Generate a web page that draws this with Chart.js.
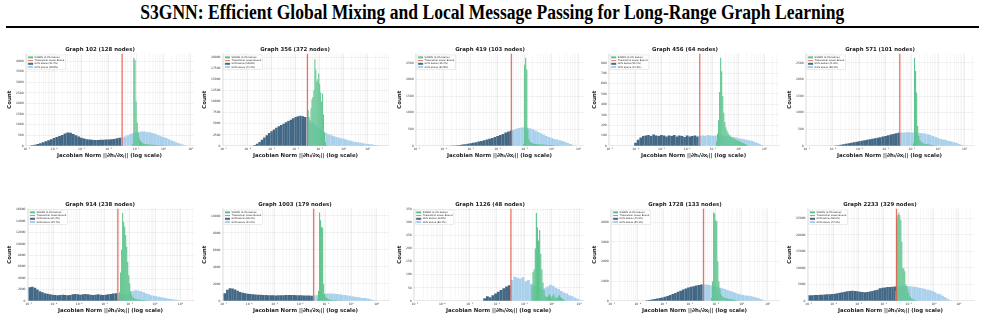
<!DOCTYPE html>
<html>
<head>
<meta charset="utf-8">
<script src="https://cdn.jsdelivr.net/npm/chart.js@4.4.1/dist/chart.umd.min.js"></script>
<style>
  body { margin: 0; background: #fff; width: 985px; height: 323px; overflow: hidden; position: relative; }
  #head { position: absolute; left: 0; top: 1px; width: 985px; text-align: center; white-space: nowrap;
          font: bold 20px "Liberation Serif", serif; color: #000; }
  #head span { display: inline-block; transform-origin: center; }
  #rule { position: absolute; left: 6px; top: 26px; width: 973px; height: 2px; background: #000; }
  canvas { position: absolute; }
</style>
</head>
<body>
<div id="head"><span id="headText">S3GNN: Efficient Global Mixing and Local Message Passing for Long-Range Graph Learning</span></div>
<div id="rule"></div>
<script>
// one panel per graph (x in log10 of the Jacobian norm)
var graphIds   = [102, 356, 419, 456, 571, 914, 1003, 1126, 1728, 2233];
var nodeCounts = [128, 372, 103, 64, 101, 238, 179, 48, 133, 329];
var lowerBound = [-1.51, -1.51, -1.49, -1.51, -1.46, -1.47, -1.47, -1.49, -1.47, -1.49];
var xMax       = [1.12, 1.88, 1.2, 1.56, 1.36, 1.54, 1.48, 1.18, 1.43, 1.6];
var yMax       = [4360, 20800, 2780, 890, 2780, 16200, 10880, 352, 4700, 28000];
var yStep      = [500, 2500, 500, 100, 500, 2000, 2000, 50, 1000, 5000];

// baseline histogram (0.1 decade bins), first bin centre
var baseStart = [-4.9, -3.8, -3.8, -4.0, -3.9, -4.95, -4.95, -2.45, -3.75, -4.95];
var base102  = [10,30,50,90,130,170,220,270,320,370, 420,470,520,580,630,620,560,500,440,390,
                350,320,300,290,280,280,290,290,300,300, 310,330,360,380,400,450,500,560,610,650,
                670,680,680,660,640,610,570,520,460,420, 370,320,260,210,160,110,70,35,12,3];
var base356  = [50,200,500,900,1400,1900,2400,2900,3300,3700, 4100,4400,4700,5000,5300,5600,5900,6200,6500,6700,
                6800,6700,6500,6300,5800,5300,4800,4300,3900,3500, 3100,2800,2600,2400,2200,2000,1850,1700,1600,1450,
                1300,1150,1000,900,800,700,600,500,450,380, 300,220,150,100,50];
var base419  = [5,10,15,20,30,40,50,65,80,95, 110,130,150,170,190,215,240,270,300,330,
                360,400,430,460,490,520,540,555,560,550, 530,500,460,420,380,340,300,270,240,210,
                190,170,150,120,90,55,25,5];
var base456  = [30,60,80,95,100,105,95,110,100,95, 105,100,90,100,95,105,90,100,95,85,
                100,90,95,100,90,95,100,95,105,100, 95,100,95,100,90,95,90,85,85,80,
                75,70,65,60,55,50,40,30,20,8];
var base571  = [10,20,35,50,65,80,95,110,125,140, 155,170,185,200,215,230,245,260,280,300,
                320,340,360,380,395,400,405,410,410,405, 400,395,390,380,370,350,330,300,270,240,
                210,190,175,150,130,110,90,60,30,10];
var base914  = [2400,2500,2300,2000,1700,1500,1350,1250,1150,1100, 1050,1000,1050,1100,1050,1000,1050,1150,1200,1150,
                1100,1150,1200,1150,1100,1050,1100,1150,1100,1050, 1100,1150,1200,1300,1350,1300,1200,1100,1150,1300,
                1600,1800,1850,1800,1700,1500,1300,1150,1000,900, 800,720,640,560,480,400,330,260,190,120,50];
var base1003 = [900,1300,1500,1450,1350,1200,1050,950,900,850, 800,780,760,740,720,700,690,680,670,660,
                650,660,670,680,690,700,700,690,680,670, 660,650,640,630,620,650,700,750,800,850,
                870,880,870,850,820,780,740,700,650,600, 550,500,450,400,350,330,280,200,120,50];
var base1126 = [10,18,14,22,28,35,42,48,55,60, 80,92,88,85,90,75,80,65,60,55,
                50,45,48,55,62,58,50,45,38,32, 28,22,18,12,8,3];
var base1728 = [10,30,50,75,100,125,150,180,215,255, 300,350,400,460,520,580,630,680,720,750,
                780,810,830,840,830,810,780,750,720,680, 640,600,560,510,460,410,370,330,300,280,
                260,240,210,180,140,90,40,10];
var base2233 = [1700,1750,1800,1800,1850,1900,1950,2000,2050,2100, 2200,2300,2450,2600,2750,2900,3000,3050,3000,2900,
                2800,2700,2650,2700,2850,3000,3200,3400,3800,4000, 4100,4200,4250,4300,4350,4400,4450,4500,4500,4500,
                4450,4400,4300,4150,3950,3800,3600,3400,3200,3000, 2600,2200,2000,1600,1100,650,300,80];
var baseCounts = [base102, base356, base419, base456, base571, base914, base1003, base1126, base1728, base2233];

// S3GNN histogram (0.04 decade bins), first bin centre
var s3Start = [-1.12, -1.48, -1.04, -0.86, -0.94, -1.44, -1.32, -0.72, -1.16, -1.52];
var s3g102  = [80,4150,4050,2100,1100,600,350,230,170,130, 110,95,85,75,70,65,60,55,50,50,
               45,45,40,40,35,35,30,30,25,25, 20,20,15,15,10,10,8,6,4,2];
var s3g356  = [8000,6500,5200,8500,10500,11000,12500,19500,17200,14500, 15000,16300,14000,12000,10000,11800,7000,3000,800,200];
var s3g419  = [60,2450,2650,2300,500,200,120,100,80,70, 60,55,50,50,45,45,40,40,40,35,
               35,30,30,30,25,25,25,20,20,15, 15,10,10,8,6,5,4,3,2];
var s3g456  = [40,120,250,520,850,720,480,320,230,180, 150,130,110,100,90,80,75,70,65,60,
               55,50,45,40,35,30,25,20,15,10,6,3];
var s3g571  = [80,2650,2250,1600,600,300,180,130,100,80, 70,60,55,50,45,40,35,30,25,20,15,10,5];
var s3g914  = [300,1500,5000,9000,15400,13800,13000,11500,9500,6800, 4500,3100,1800,1000,700,500,400,350,300,250,
               220,200,180,160,140,120,100,90,80,70, 60,50,40,30,20,10];
var s3g1003 = [200,1200,10400,9500,8700,8600,2000,800,500,350, 250,200,150,130,110,100,90,80,70,60,
               50,45,40,35,30,25,20,15,10,5];
var s3g1126 = [60,110,120,200,335,280,230,270,180,120, 70,40,20,15,15,20,25,18,12,20,
               25,15,10,12,18,22,15,10,8,5,3];
var s3g1728 = [150,1000,4500,4450,4100,4050,2000,1000,600,350, 250,200,170,150,130,120,110,100,90,80,
               70,60,50,40,30,20,10];
var s3g2233 = [3000,25000,26000,26700,26000,24500,18000,10000,9800,9000, 5000,4500,3500,2500,1500,1000,700,500,400,300,
               200,150,100,60,30];
var s3Counts = [s3g102, s3g356, s3g419, s3g456, s3g571, s3g914, s3g1003, s3g1126, s3g1728, s3g2233];

var baseStep = 0.1, s3Step = 0.04;
var xMin = -5.06;

var colLeft = [6, 201, 396, 591, 786];
var rowTop = [44, 199];

var sup = {'-':'⁻','0':'⁰','1':'¹','2':'²','3':'³','4':'⁴','5':'⁵','6':'⁶','7':'⁷','8':'⁸','9':'⁹'};
function powLabel(n) { return '10' + String(n).split('').map(function (c) { return sup[c]; }).join(''); }
function isMajor(v) { return Math.abs(v - Math.round(v)) < 1e-6; }
function sum(a) { return a.reduce(function (s, v) { return s + v; }, 0); }

// legend drawn inside the plot, top-left
var insideLegend = {
  id: 'insideLegend',
  afterDraw: function (chart) {
    var ctx = chart.ctx, a = chart.chartArea, items = chart.data.datasets;
    ctx.save();
    ctx.font = '2.4px "DejaVu Sans"';
    var rowH = 3.2, sw = 5, w = 0;
    items.forEach(function (d) { w = Math.max(w, ctx.measureText(d.label).width); });
    var bx = a.left + 2, by = a.top + 1.5, bw = w + sw + 4, bh = items.length * rowH + 1.5;
    ctx.fillStyle = 'rgba(255,255,255,0.85)';
    ctx.fillRect(bx, by, bw, bh);
    ctx.strokeStyle = '#d0d0d0'; ctx.lineWidth = 0.4;
    ctx.strokeRect(bx, by, bw, bh);
    items.forEach(function (d, k) {
      var y = by + 0.8 + rowH * k + rowH / 2;
      if (d.type === 'line') {
        ctx.strokeStyle = d.borderColor; ctx.lineWidth = 1;
        ctx.beginPath(); ctx.moveTo(bx + 1, y); ctx.lineTo(bx + 1 + sw, y); ctx.stroke();
      } else {
        ctx.fillStyle = d.backgroundColor;
        ctx.fillRect(bx + 1, y - 1, sw, 2);
      }
      ctx.fillStyle = '#222'; ctx.textBaseline = 'middle';
      ctx.fillText(d.label, bx + sw + 2.5, y);
    });
    ctx.restore();
  }
};

function drawPanel(i) {
  var cv = document.createElement('canvas');
  cv.width = 192; cv.height = 116;
  cv.style.left = colLeft[i % 5] + 'px';
  cv.style.top = rowTop[Math.floor(i / 5)] + 'px';
  document.body.appendChild(cv);

  var below = [], above = [], s3 = [];
  baseCounts[i].forEach(function (c, k) {
    var x = baseStart[i] + k * baseStep;
    (x < lowerBound[i] ? below : above).push({ x: x, y: c });
  });
  var s3Below = 0;
  s3Counts[i].forEach(function (c, k) {
    var x = s3Start[i] + k * s3Step;
    if (x < lowerBound[i]) s3Below += c;
    s3.push({ x: x, y: c });
  });
  var total = sum(baseCounts[i]);
  var pb = 100 * sum(below.map(function (p) { return p.y; })) / total;
  var ps3 = 100 * s3Below / sum(s3Counts[i]);

  // bars sit on hidden axes so the dense log minor ticks of the visible axis do not shrink them
  var barCommon = { grouped: false, barPercentage: 1.04, categoryPercentage: 1, borderWidth: 0 };
  var hiddenX = { type: 'linear', min: xMin, max: xMax[i], offset: false, display: false };
  new Chart(cv, {
    type: 'bar',
    data: {
      datasets: [
        Object.assign({ label: 'S3GNN (' + ps3.toFixed(1) + '% below)', data: s3, xAxisID: 'x2',
          backgroundColor: '#5cc38c', order: 1 }, barCommon),
        { type: 'line', label: 'Theoretical Lower Bound', xAxisID: 'x',
          data: [{ x: lowerBound[i], y: 0 }, { x: lowerBound[i], y: yMax[i] }],
          borderColor: 'rgba(232,90,74,0.85)', borderWidth: 1.3, pointRadius: 0, order: 0 },
        Object.assign({ label: 'GCN below (' + pb.toFixed(1) + '%)', data: below, xAxisID: 'xb',
          backgroundColor: '#436886', order: 3 }, barCommon),
        Object.assign({ label: 'GCN above (' + (100 - pb).toFixed(1) + '%)', data: above, xAxisID: 'xb',
          backgroundColor: '#a9d1ec', order: 2 }, barCommon)
      ]
    },
    options: {
      responsive: false,
      animation: false,
      layout: { padding: { left: 0, right: 4, top: 0, bottom: 1 } },
      plugins: {
        legend: { display: false },
        tooltip: { enabled: false },
        title: {
          display: true,
          text: 'Graph ' + graphIds[i] + ' (' + nodeCounts[i] + ' nodes)',
          color: '#222',
          font: { family: 'DejaVu Sans', size: 5.4, weight: 'bold' },
          padding: { top: 2, bottom: 1 }
        }
      },
      scales: {
        x: {
          type: 'linear', min: xMin, max: xMax[i], offset: false,
          afterBuildTicks: function (scale) {
            var t = [];
            for (var n = -6; n <= 2; n++) {
              for (var k = 1; k <= 9; k++) {
                var v = n + Math.log10(k);
                if (v >= scale.min && v <= scale.max) t.push({ value: v });
              }
            }
            scale.ticks = t;
          },
          ticks: {
            autoSkip: false, maxRotation: 0, padding: 1, color: '#333',
            font: { family: 'DejaVu Sans', size: 3 },
            callback: function (v) { return isMajor(v) ? powLabel(Math.round(v)) : ''; }
          },
          grid: {
            offset: false, drawTicks: false, lineWidth: 0.5,
            color: function (c) { return c.tick && isMajor(c.tick.value) ? 'rgba(0,0,0,0.13)' : 'rgba(0,0,0,0.06)'; }
          },
          border: { color: '#dcdcdc', width: 0.5 },
          title: {
            display: true, text: 'Jacobian Norm ||∂hᵢ/∂xⱼ|| (log scale)', color: '#222',
            font: { family: 'DejaVu Sans', size: 5.4, weight: 'bold' }, padding: { top: 1, bottom: 0 }
          }
        },
        xb: hiddenX,
        x2: Object.assign({}, hiddenX),
        y: {
          min: 0, max: yMax[i],
          afterBuildTicks: function (scale) {
            var t = [];
            for (var v = 0; v <= yMax[i]; v += yStep[i]) t.push({ value: v });
            scale.ticks = t;
          },
          ticks: {
            autoSkip: false, padding: 1.5, color: '#333',
            font: { family: 'DejaVu Sans', size: 3 },
            callback: function (v) { return String(v); }
          },
          grid: { drawTicks: false, lineWidth: 0.5, color: 'rgba(0,0,0,0.1)' },
          border: { color: '#dcdcdc', width: 0.5 },
          title: {
            display: true, text: 'Count', color: '#222',
            font: { family: 'DejaVu Sans', size: 5.4, weight: 'bold' }, padding: { top: 0, bottom: 2 }
          }
        }
      }
    },
    plugins: [insideLegend]
  });
}

for (var i = 0; i < graphIds.length; i++) drawPanel(i);

// squeeze the serif heading to the width it has in the figure
var hs = document.getElementById('headText');
hs.style.transform = 'scaleX(' + (704 / hs.getBoundingClientRect().width) + ')';
</script>
</body>
</html>
